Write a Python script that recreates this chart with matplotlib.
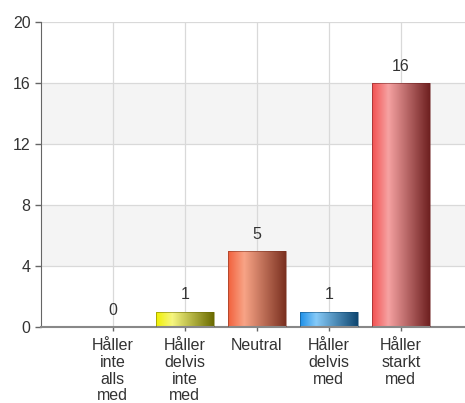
import matplotlib
matplotlib.use("Agg")
import matplotlib.pyplot as plt
import numpy as np
from matplotlib.colors import LinearSegmentedColormap

categories = ["Håller\ninte\nalls\nmed", "Håller\ndelvis\ninte\nmed", "Neutral", "Håller\ndelvis\nmed", "Håller\nstarkt\nmed"]
values = [0, 1, 5, 1, 16]
yticks = [0, 4, 8, 12, 16, 20]
# (left, highlight, right) gradient colours per bar
bar_colors = [
    ("#e8e8e8", "#f4f4f4", "#a0a0a0"),
    ("#f0f000", "#f6f680", "#6a6a00"),
    ("#f2603c", "#f8a486", "#7a3020"),
    ("#1e90e8", "#86caf8", "#0e4670"),
    ("#f25050", "#f6a2a2", "#6e2020"),
]

plt.rcParams['font.family'] = ['Liberation Sans', 'DejaVu Sans']
fig = plt.figure(figsize=(4.65, 4.03), dpi=100)
ax = fig.add_axes([0.088, 0.189, 0.912, 0.756])

x = np.arange(len(categories))

# alternating bands
for i in range(len(yticks) - 1):
    if i % 2 == 1:
        ax.axhspan(yticks[i], yticks[i + 1], color="#f4f4f4", zorder=0, lw=0)

ax.set_yticks(yticks)
ax.set_xticks(x)
ax.set_xticklabels(categories, fontsize=11.5, color="#333333", linespacing=1.15)
ax.tick_params(axis='y', labelsize=11.5, colors="#333333", length=4, width=1, color="#666666")
ax.tick_params(axis='x', length=3, width=1, color="#666666", pad=5)
ax.grid(True, color="#d9d9d9", lw=0.9, zorder=0.5)
ax.set_axisbelow(True)

for s in ["top", "right"]:
    ax.spines[s].set_visible(False)
ax.spines["left"].set_color("#666666")
ax.spines["bottom"].set_color("#888888")
ax.spines["bottom"].set_linewidth(1.5)

bars = ax.bar(x, values, width=0.8, color="none", edgecolor="none", zorder=2)
for b, cols, v in zip(bars, bar_colors, values):
    cmap = LinearSegmentedColormap.from_list("g", [(0, cols[0]), (0.28, cols[1]), (1, cols[2])])
    grad = np.linspace(0, 1, 256).reshape(1, -1)
    if v > 0:
        im = ax.imshow(grad, cmap=cmap, aspect='auto', zorder=2,
                       extent=(b.get_x(), b.get_x() + b.get_width(), 0, b.get_height()))
        im.set_clip_path(b)
        ax.add_patch(plt.Rectangle((b.get_x(), 0), b.get_width(), b.get_height(),
                                   fill=False, edgecolor=cols[2], lw=0.6, alpha=0.6, zorder=3))
    ax.text(b.get_x() + b.get_width() / 2, v + 0.6, str(v), ha='center', va='bottom',
            fontsize=11.5, color="#333333", zorder=4)

ax.set_xlim(-1.0, 4.89)
ax.set_ylim(0, 20)
fig.savefig("out.png", dpi=100)
